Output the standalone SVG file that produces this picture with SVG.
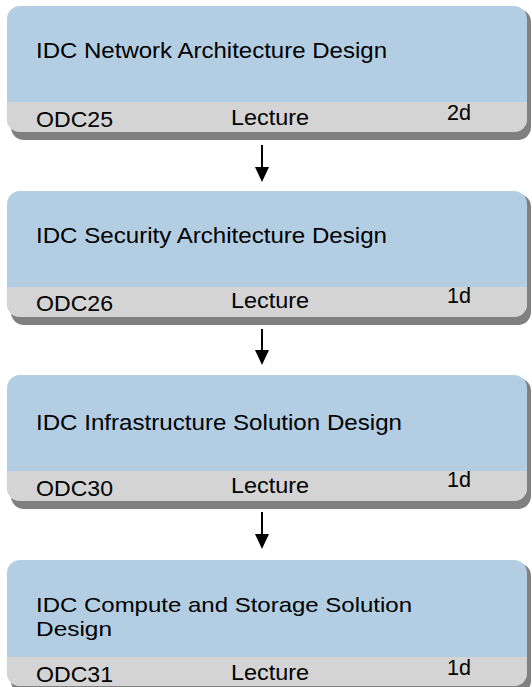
<svg xmlns="http://www.w3.org/2000/svg" width="532" height="687" viewBox="0 0 532 687">
  <style>
    .shadow { fill: #808080; }
    .body { fill: #B3CEE3; }
    .band { fill: #D4D4D4; }
    text { font-family: "Liberation Sans", Arial, sans-serif; font-size: 22px; fill: #000000; }
    .tight { font-size: 21px; }
    .conn { stroke: #000000; stroke-width: 2; fill: none; }
  </style>
  <defs>
    <marker id="arrow" markerUnits="userSpaceOnUse" markerWidth="16" markerHeight="16" viewBox="0 -8 16 16" refX="0" refY="0" orient="auto">
      <path d="M0,-7 L15,0 L0,7 Z" fill="#000000"/>
    </marker>
  </defs>

  <g id="connectors">
    <line class="conn" x1="262" y1="145" x2="262" y2="167" marker-end="url(#arrow)"/>
    <line class="conn" x1="262" y1="329" x2="262" y2="350" marker-end="url(#arrow)"/>
    <line class="conn" x1="262" y1="512" x2="262" y2="534" marker-end="url(#arrow)"/>
  </g>

  <g id="node-odc25">
    <rect class="shadow" x="11" y="9" width="520" height="131" rx="13" ry="13"/>
    <rect class="body" x="7" y="6" width="520" height="126" rx="13" ry="13"/>
    <path class="band" d="M7,102 H527 V119 A13,13 0 0 1 514,132 H20 A13,13 0 0 1 7,119 Z"/>
    <text x="36" y="58" textLength="351" lengthAdjust="spacingAndGlyphs">IDC Network Architecture Design</text>
    <text x="36" y="127" textLength="77" lengthAdjust="spacingAndGlyphs">ODC25</text>
    <text x="231" y="125" textLength="78" lengthAdjust="spacingAndGlyphs">Lecture</text>
    <text x="447" y="120" textLength="24" lengthAdjust="spacingAndGlyphs">2d</text>
  </g>

  <g id="node-odc26">
    <rect class="shadow" x="11" y="194" width="520" height="131" rx="13" ry="13"/>
    <rect class="body" x="7" y="191" width="520" height="126" rx="13" ry="13"/>
    <path class="band" d="M7,287 H527 V304 A13,13 0 0 1 514,317 H20 A13,13 0 0 1 7,304 Z"/>
    <text x="36" y="243" textLength="351" lengthAdjust="spacingAndGlyphs">IDC Security Architecture Design</text>
    <text x="36" y="311" textLength="77" lengthAdjust="spacingAndGlyphs">ODC26</text>
    <text x="231" y="308" textLength="78" lengthAdjust="spacingAndGlyphs">Lecture</text>
    <text x="447" y="303" textLength="24" lengthAdjust="spacingAndGlyphs">1d</text>
  </g>

  <g id="node-odc30">
    <rect class="shadow" x="11" y="378" width="520" height="131" rx="13" ry="13"/>
    <rect class="body" x="7" y="375" width="520" height="126" rx="13" ry="13"/>
    <path class="band" d="M7,471 H527 V488 A13,13 0 0 1 514,501 H20 A13,13 0 0 1 7,488 Z"/>
    <text x="36" y="430" textLength="366" lengthAdjust="spacingAndGlyphs">IDC Infrastructure Solution Design</text>
    <text x="36" y="496" textLength="77" lengthAdjust="spacingAndGlyphs">ODC30</text>
    <text x="231" y="493" textLength="78" lengthAdjust="spacingAndGlyphs">Lecture</text>
    <text x="447" y="487" textLength="24" lengthAdjust="spacingAndGlyphs">1d</text>
  </g>

  <g id="node-odc31">
    <rect class="shadow" x="11" y="563" width="520" height="131" rx="13" ry="13"/>
    <rect class="body" x="7" y="560" width="520" height="126" rx="13" ry="13"/>
    <path class="band" d="M7,657 H527 V673 A13,13 0 0 1 514,686 H20 A13,13 0 0 1 7,673 Z"/>
    <text class="tight" x="36" y="612" textLength="376" lengthAdjust="spacingAndGlyphs">IDC Compute and Storage Solution</text>
    <text class="tight" x="36" y="636" textLength="76" lengthAdjust="spacingAndGlyphs">Design</text>
    <text x="36" y="682" textLength="77" lengthAdjust="spacingAndGlyphs">ODC31</text>
    <text x="231" y="680" textLength="78" lengthAdjust="spacingAndGlyphs">Lecture</text>
    <text x="447" y="675" textLength="24" lengthAdjust="spacingAndGlyphs">1d</text>
  </g>
</svg>
